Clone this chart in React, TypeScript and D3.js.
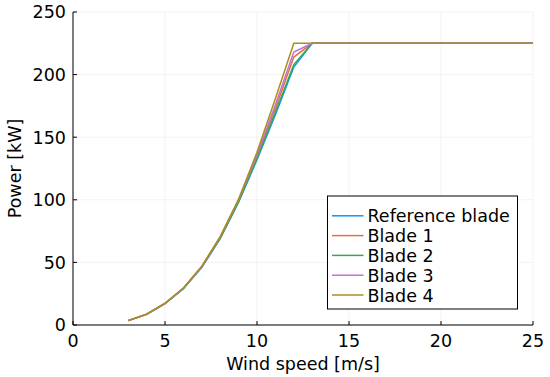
import React from "react";
import * as d3 from "d3";

const windSpeed = [3, 4, 5, 6, 7, 8, 9, 10, 11, 12, 13, 14, 15, 16, 17, 18, 19, 20, 21, 22, 23, 24, 25];
const referenceBlade = [3.5, 8.5, 17, 29, 46, 69, 98, 132, 168, 206, 225, 225, 225, 225, 225, 225, 225, 225, 225, 225, 225, 225, 225];
const blade1 = [3.5, 8.6, 17.2, 29.3, 46.5, 70, 99.5, 135, 173, 214, 225, 225, 225, 225, 225, 225, 225, 225, 225, 225, 225, 225, 225];
const blade2 = [3.5, 8.5, 17, 29.1, 46.2, 69.3, 98.5, 133, 170, 208, 225, 225, 225, 225, 225, 225, 225, 225, 225, 225, 225, 225, 225];
const blade3 = [3.5, 8.6, 17.3, 29.4, 46.7, 70.3, 100, 136, 176, 218, 225, 225, 225, 225, 225, 225, 225, 225, 225, 225, 225, 225, 225];
const blade4 = [3.6, 8.7, 17.4, 29.5, 47, 70.6, 100.5, 138, 181, 225, 225, 225, 225, 225, 225, 225, 225, 225, 225, 225, 225, 225, 225];

const seriesNames = ["Reference blade", "Blade 1", "Blade 2", "Blade 3", "Blade 4"];
const seriesColors = ["#009AFA", "#E36F47", "#3EA44E", "#C371D2", "#AC8E18"];
const seriesValues = [referenceBlade, blade1, blade2, blade3, blade4];

const xTicks = [0, 5, 10, 15, 20, 25];
const yTicks = [0, 50, 100, 150, 200, 250];

export default function App() {
  const W = 550, H = 377;
  const left = 73, right = 533, top = 12, bottom = 325;
  const x = d3.scaleLinear().domain([0, 25]).range([left, right]);
  const y = d3.scaleLinear().domain([0, 250]).range([bottom, top]);
  const line = d3.line<number>().x((_, i) => x(windSpeed[i])).y((d) => y(d));
  const font = "DejaVu Sans";
  const fs = 17.5;

  const lx0 = 327.5, ly0 = 196, lw = 190, lh = 113;
  const rowH = 19.8;

  return (
    <svg width={W} height={H} style={{ position: "absolute", left: 0, top: 0 }} fontFamily={font}>
      <rect x={0} y={0} width={W} height={H} fill="white" />
      {xTicks.map((t) => (
        <line key={"gx" + t} x1={x(t)} x2={x(t)} y1={top} y2={bottom} stroke="#000" strokeOpacity={0.1} strokeWidth={0.5} />
      ))}
      {yTicks.map((t) => (
        <line key={"gy" + t} x1={left} x2={right} y1={y(t)} y2={y(t)} stroke="#000" strokeOpacity={0.1} strokeWidth={0.5} />
      ))}
      {seriesValues.map((vals, i) => (
        <path key={"s" + i} d={line(vals) || ""} fill="none" stroke={seriesColors[i]} strokeWidth={1.5} />
      ))}
      <line x1={left} x2={right} y1={bottom} y2={bottom} stroke="#000" strokeWidth={1} />
      <line x1={left} x2={left} y1={top} y2={bottom} stroke="#000" strokeWidth={1} />
      {xTicks.map((t) => (
        <g key={"tx" + t}>
          <line x1={x(t)} x2={x(t)} y1={bottom} y2={bottom - 4} stroke="#000" strokeWidth={1} />
          <text x={x(t)} y={347} textAnchor="middle" fontSize={fs} fill="#000">{t}</text>
        </g>
      ))}
      {yTicks.map((t) => (
        <g key={"ty" + t}>
          <line x1={left} x2={left + 4} y1={y(t)} y2={y(t)} stroke="#000" strokeWidth={1} />
          <text x={left - 7} y={y(t) + 6.4} textAnchor="end" fontSize={fs} fill="#000">{t}</text>
        </g>
      ))}
      <text x={(left + right) / 2} y={370} textAnchor="middle" fontSize={fs} fill="#000">Wind speed [m/s]</text>
      <text transform={`translate(21, ${(top + bottom) / 2}) rotate(-90)`} textAnchor="middle" fontSize={fs} fill="#000">Power [kW]</text>
      <rect x={lx0} y={ly0} width={lw} height={lh} fill="white" stroke="#000" strokeWidth={1} />
      {seriesNames.map((n, i) => (
        <g key={"l" + i}>
          <line x1={332} x2={363.5} y1={ly0 + 19.8 + i * rowH} y2={ly0 + 19.8 + i * rowH} stroke={seriesColors[i]} strokeWidth={1.5} />
          <text x={367.5} y={ly0 + 19.8 + i * rowH + 6.5} fontSize={fs} fill="#000">{n}</text>
        </g>
      ))}
    </svg>
  );
}
